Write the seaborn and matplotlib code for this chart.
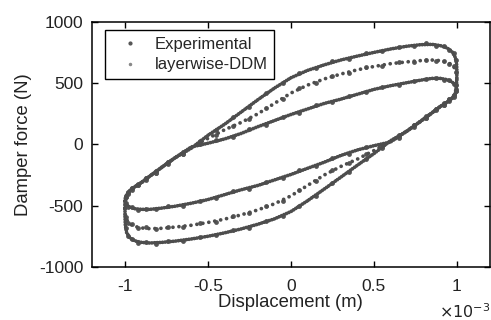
import pandas as pd
import matplotlib.pyplot as plt
import seaborn as sns
from matplotlib.lines import Line2D

# displacement grids (units of 1e-3 m), upper branch goes left->right, lower right->left
X_UP = [-1.0, -0.998, -0.99, -0.97, -0.94, -0.9, -0.85, -0.78, -0.7, -0.6, -0.5, -0.4, -0.3, -0.2, -0.1,
        0.0, 0.1, 0.2, 0.3, 0.4, 0.5, 0.6, 0.7, 0.78, 0.85, 0.9, 0.94, 0.97, 0.99, 0.998, 1.0]
X_LOW = [1.0, 0.998, 0.99, 0.97, 0.94, 0.9, 0.85, 0.78, 0.7, 0.6, 0.5, 0.4, 0.3, 0.2, 0.1,
         0.0, -0.1, -0.2, -0.3, -0.4, -0.5, -0.6, -0.7, -0.78, -0.85, -0.9, -0.94, -0.97, -0.99, -0.998, -1.0]

# layerwise-DDM forces (N)
ddm_inner_up = [-460, -440, -410, -375, -345, -310, -258, -188, -110, -20, 10, 45, 90, 145, 195,
                245, 290, 335, 370, 410, 450, 480, 505, 525, 540, 540, 530, 512, 488, 470, 458]
ddm_inner_low = [452, 445, 410, 375, 345, 310, 258, 188, 110, 20, -10, -45, -90, -145, -195,
                 -245, -290, -335, -370, -410, -450, -480, -505, -520, -530, -530, -525, -512, -495, -478, -468]
ddm_mid_up = [-490, -450, -410, -375, -345, -310, -258, -188, -110, -25, 50, 120, 180, 250, 335,
              420, 485, 535, 575, 610, 637, 660, 675, 685, 690, 685, 672, 652, 620, 585, 545]
ddm_mid_low = [500, 460, 410, 375, 345, 310, 258, 188, 110, 25, -50, -120, -180, -250, -335,
               -420, -485, -535, -575, -610, -637, -660, -675, -685, -688, -682, -670, -650, -615, -575, -525]
ddm_outer_up = [-520, -470, -415, -375, -345, -310, -258, -188, -110, -30, 75, 165, 265, 365, 460,
                545, 605, 650, 690, 722, 752, 780, 803, 815, 818, 808, 790, 760, 714, 668, 615]
ddm_outer_low = [545, 480, 415, 375, 345, 310, 258, 188, 110, 30, -75, -170, -268, -365, -460,
                 -548, -608, -652, -690, -722, -750, -772, -790, -800, -805, -800, -788, -765, -720, -660, -590]

# experimental samples
XE_UP = [-0.995, -0.98, -0.955, -0.92, -0.875, -0.815, -0.74, -0.65, -0.55, -0.45, -0.35, -0.25, -0.15, -0.05,
         0.05, 0.15, 0.25, 0.35, 0.45, 0.55, 0.65, 0.74, 0.815, 0.875, 0.92, 0.955, 0.98, 0.995]
XE_LOW = [0.995, 0.98, 0.955, 0.92, 0.875, 0.815, 0.74, 0.65, 0.55, 0.45, 0.35, 0.25, 0.15, 0.05,
          -0.05, -0.15, -0.25, -0.35, -0.45, -0.55, -0.65, -0.74, -0.815, -0.875, -0.92, -0.955, -0.98, -0.995]

exp_inner_up = [-420, -400, -352, -335, -270, -230, -140, -75, 5, 35, 60, 125, 160, 228,
                260, 320, 345, 398, 425, 472, 488, 522, 535, 545, 528, 530, 495, 482]
exp_inner_low = [440, 385, 368, 320, 292, 215, 158, 55, -5, -20, -75, -110, -178, -212,
                 -275, -305, -360, -383, -438, -458, -500, -505, -530, -524, -535, -512, -510, -480]
exp_mid_up = [-428, -385, -368, -320, -292, -215, -158, -60, 20, 78, 155, 205, 300, 372,
              460, 505, 562, 588, 630, 642, 675, 672, 694, 680, 686, 655, 642, 590]
exp_mid_low = [445, 398, 352, 335, 278, 230, 142, 75, -20, -78, -155, -208, -298, -372,
               -458, -505, -562, -588, -630, -642, -675, -672, -694, -678, -684, -653, -640, -592]
exp_outer_up = [-432, -402, -352, -335, -276, -232, -141, -78, 28, 115, 225, 310, 420, 500,
                582, 622, 680, 700, 745, 760, 800, 804, 825, 806, 808, 768, 745, 692]
exp_outer_low = [438, 402, 368, 320, 291, 215, 157, 62, -25, -118, -228, -312, -420, -502,
                 -585, -625, -680, -700, -742, -755, -789, -788, -810, -796, -802, -770, -750, -682]

ddm = {'inner': (ddm_inner_up, ddm_inner_low), 'middle': (ddm_mid_up, ddm_mid_low),
       'outer': (ddm_outer_up, ddm_outer_low)}
exp = {'inner': (exp_inner_up, exp_inner_low), 'middle': (exp_mid_up, exp_mid_low),
       'outer': (exp_outer_up, exp_outer_low)}

rows = []
for name, (up, low) in ddm.items():
    xs = X_UP + X_LOW + X_UP[:1]
    fs = up + low + up[:1]
    for i, (x, f) in enumerate(zip(xs, fs)):
        rows.append({'loop': name, 'order': i, 'disp': x, 'force': f})
ddm_df = pd.DataFrame(rows)

rows = []
for name, (up, low) in exp.items():
    for x, f in zip(XE_UP + XE_LOW, up + low):
        rows.append({'loop': name, 'disp': x, 'force': f})
exp_df = pd.DataFrame(rows)

sns.set_style('ticks')
plt.rcParams['font.family'] = ['Liberation Sans', 'DejaVu Sans']
plt.rcParams['axes.unicode_minus'] = False

fig = plt.figure(figsize=(4.91, 3.2), dpi=100)
ax = fig.add_axes([0.187, 0.166, 0.811, 0.765])

dark = '#4d4d4d'
# middle loop drawn with more spaced dots, like the reference
for name, grp in ddm_df.groupby('loop'):
    pattern = (0, (0.01, 1.6)) if name == 'middle' else (0, (0.01, 0.7))
    sns.lineplot(data=grp, x='disp', y='force', estimator=None, sort=False,
                 color=dark, linewidth=2.7, linestyle=pattern, dash_capstyle='round',
                 legend=False, ax=ax)
sns.scatterplot(data=exp_df, x='disp', y='force', color='#555555', s=12, linewidth=0,
                legend=False, ax=ax)

ax.set_xlim(-1.2, 1.2)
ax.set_ylim(-1000, 1000)
ax.set_xticks([-1, -0.5, 0, 0.5, 1])
ax.set_xticklabels(['-1', '-0.5', '0', '0.5', '1'])
ax.set_yticks([-1000, -500, 0, 500, 1000])
ax.tick_params(direction='in', length=4, width=1, top=True, right=True, labelsize=12.5,
               color='black', labelcolor='#222222')
ax.tick_params(axis='x', pad=9)
ax.tick_params(axis='y', pad=6)
for sp in ax.spines.values():
    sp.set_linewidth(1.1)
    sp.set_color('black')
ax.set_xlabel('Displacement (m)', fontsize=13.3, color='#222222', labelpad=0)
ax.set_ylabel('Damper force (N)', fontsize=13.3, color='#222222', labelpad=5)
ax.text(1.0, -0.145, r'$\times10^{-3}$', transform=ax.transAxes, ha='right', va='top',
        fontsize=11.5, color='#222222')

handles = [Line2D([], [], marker='.', ls='none', color='#555555', markersize=4),
           Line2D([], [], marker='.', ls='none', color='#888888', markersize=3)]
leg = ax.legend(handles, ['Experimental', 'layerwise-DDM'], loc='upper left', fontsize=12,
                frameon=True, fancybox=False, framealpha=1, edgecolor='black',
                borderpad=0.4, handletextpad=0.4, labelspacing=0.35, handlelength=2.2,
                borderaxespad=0, bbox_to_anchor=(0.032, 0.968))
leg.get_frame().set_linewidth(1.0)

fig.savefig('out.png', dpi=100)
